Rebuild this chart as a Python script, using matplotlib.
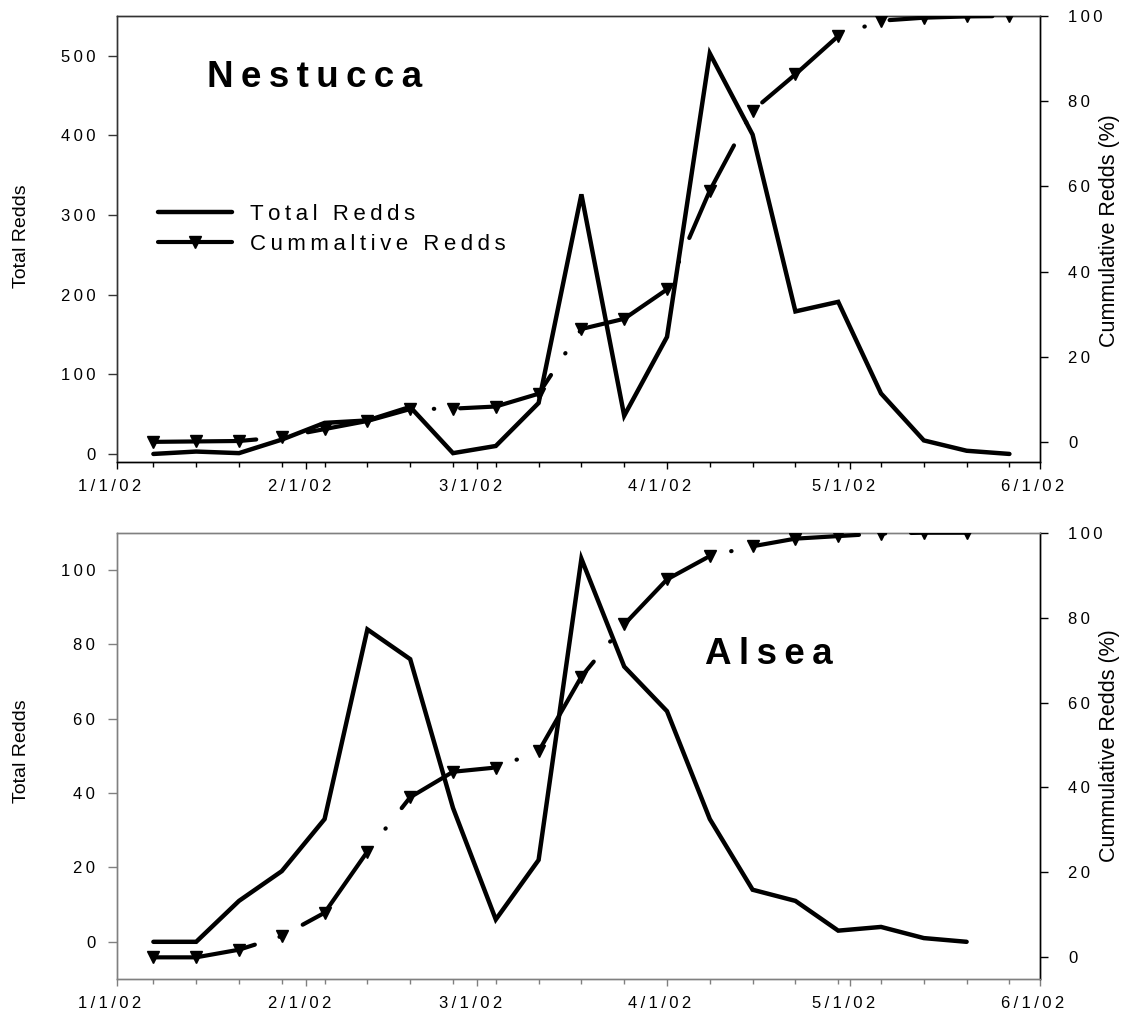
import matplotlib
matplotlib.use('Agg')
import matplotlib.pyplot as plt
import matplotlib.dates as mdates
import numpy as np
from matplotlib.transforms import ScaledTranslation

plt.rcParams['font.family'] = ['Liberation Sans', 'DejaVu Sans']

# ---------------- data ----------------
nestucca_dates = ['2002-01-07', '2002-01-14', '2002-01-21', '2002-01-28', '2002-02-04',
                  '2002-02-11', '2002-02-18', '2002-02-25', '2002-03-04', '2002-03-11',
                  '2002-03-18', '2002-03-25', '2002-04-01', '2002-04-08', '2002-04-15',
                  '2002-04-22', '2002-04-29', '2002-05-06', '2002-05-13', '2002-05-20',
                  '2002-05-27']
nestucca_total = [0, 3, 1, 18, 39, 42, 59, 1, 10, 64, 326, 48, 147, 503, 401, 179, 191, 76, 17, 4, 0]
nestucca_cum = [0, 0.1, 0.2, 1.1, 3.0, 4.9, 7.7, 7.8, 8.3, 11.3, 26.5, 28.9, 35.8, 59.0,
                77.8, 86.3, 95.3, 98.9, 99.6, 99.9, 100]

alsea_dates = ['2002-01-07', '2002-01-14', '2002-01-21', '2002-01-28', '2002-02-04',
               '2002-02-11', '2002-02-18', '2002-02-25', '2002-03-04', '2002-03-11',
               '2002-03-18', '2002-03-25', '2002-04-01', '2002-04-08', '2002-04-15',
               '2002-04-22', '2002-04-29', '2002-05-06', '2002-05-13', '2002-05-20']
alsea_total = [0, 0, 11, 19, 33, 84, 76, 36, 6, 22, 103, 74, 62, 33, 14, 11, 3, 4, 1, 0]
alsea_cum = [0, 0, 1.8, 5.0, 10.5, 24.9, 37.7, 43.7, 44.7, 48.5, 66.1, 78.4, 89.0, 94.5,
             96.8, 98.6, 99.2, 99.8, 100, 100]

month_ticks = ['2002-01-01', '2002-02-01', '2002-03-01', '2002-04-01', '2002-05-01', '2002-06-01']
month_labels = ['1/1/02', '2/1/02', '3/1/02', '4/1/02', '5/1/02', '6/1/02']
week_ticks = nestucca_dates

nestucca_left_ticks = [0, 100, 200, 300, 400, 500]
alsea_left_ticks = [0, 20, 40, 60, 80, 100]
right_ticks = [0, 20, 40, 60, 80, 100]


def sp(s):
    return '\u2009'.join(s)


def todates(lst):
    return mdates.datestr2num(lst)


W, H = 1135, 1013
fig = plt.figure(figsize=(W / 100, H / 100), dpi=100)
fig.patch.set_facecolor('white')

ax_top = fig.add_axes([116.7 / W, 1 - 462.3 / H, 923.3 / W, 446.3 / H])
ax_bot = fig.add_axes([116.7 / W, 1 - 979 / H, 923.3 / W, 446.3 / H])

CUM_STYLE = (0, (24.7, 6.2, 0.1, 6.2))
TICK_FS = 12


def panel(ax, dates, total, cum, ylim_l, lticks, ylim_r, name, name_xy,
          frame_col, lab_l_y, lab_r_y, legend=False):
    x = todates(dates)
    axr = ax.twinx()
    l1, = ax.plot(x, total, color='black', lw=3.2, solid_joinstyle='miter',
                  solid_capstyle='round', zorder=3)
    l2, = axr.plot(x, cum, color='black', lw=3.0, linestyle=CUM_STYLE,
                   dash_capstyle='round', solid_capstyle='round', dash_joinstyle='round',
                   marker='v', markersize=9, zorder=3)
    ax.set_xlim(todates(['2002-01-01'])[0], todates(['2002-06-01'])[0])
    ax.set_ylim(*ylim_l)
    axr.set_ylim(*ylim_r)

    ax.set_yticks(lticks)
    ax.set_yticklabels([sp(str(v)) for v in lticks])
    axr.set_yticks(right_ticks)
    axr.set_yticklabels([sp(str(v)) for v in right_ticks])

    ax.set_xticks(todates(month_ticks))
    ax.set_xticklabels([sp(s) for s in month_labels])
    ax.set_xticks(todates(week_ticks), minor=True)

    ax.tick_params(axis='y', which='major', direction='out', length=6.5, width=1,
                   pad=9, labelsize=TICK_FS, color=frame_col[0])
    axr.tick_params(axis='y', which='major', direction='out', length=6, width=1,
                    pad=14.5, labelsize=TICK_FS)
    ax.tick_params(axis='x', which='major', direction='out', length=5, width=1,
                   pad=7, labelsize=TICK_FS, color=frame_col[1])
    ax.tick_params(axis='x', which='minor', direction='out', length=3.3, width=1,
                   color=frame_col[1])

    for s in ['left', 'top', 'bottom', 'right']:
        ax.spines[s].set_linewidth(1)
        axr.spines[s].set_linewidth(1)
    ax.spines['left'].set_color(frame_col[0])
    axr.spines['left'].set_color(frame_col[0])
    ax.spines['top'].set_color(frame_col[0])
    axr.spines['top'].set_color(frame_col[0])
    ax.spines['bottom'].set_color(frame_col[1])
    axr.spines['bottom'].set_color(frame_col[1])
    axr.spines['right'].set_color('black')

    ax.set_ylabel('Total Redds', fontsize=14)
    ax.yaxis.set_label_coords((22 - 116.7) / 923.3, lab_l_y)
    ax.yaxis.label.set_va('center')
    axr.set_ylabel('Cummulative Redds (%)', fontsize=15.5)
    axr.yaxis.set_label_coords((1110 - 116.7) / 923.3, lab_r_y)
    axr.yaxis.label.set_va('center')

    ax.text(name_xy[0], name_xy[1], sp(name), transform=ax.transAxes, fontsize=26.5,
            fontweight='bold', ha='left', va='baseline')

    off = ScaledTranslation(-0.07, 0, fig.dpi_scale_trans)
    for lbl in ax.get_xticklabels():
        lbl.set_transform(lbl.get_transform() + off)

    if legend:
        axr.legend([l1, l2], [sp('Total Redds'), sp('Cummaltive Redds')],
                   loc='upper left', bbox_to_anchor=(158 / W, 1 - 204 / H),
                   bbox_transform=fig.transFigure, frameon=False, borderpad=0,
                   borderaxespad=0, handlelength=3.33, handletextpad=0.8,
                   labelspacing=0.4, fontsize=16, numpoints=1)
    return axr


panel(ax_top, nestucca_dates, nestucca_total, nestucca_cum, (-10.5, 550),
      nestucca_left_ticks, (-4.8, 100), 'Nestucca',
      ((207 - 116.7) / 923.3, (462.3 - 87.3) / 446.3), ('#333333', 'black'),
      0.507, 0.518, legend=True)
panel(ax_bot, alsea_dates, alsea_total, alsea_cum, (-10, 110),
      alsea_left_ticks, (-5.1, 100), 'Alsea',
      ((705 - 116.7) / 923.3, (979 - 664) / 446.3), ('#808080', '#808080'),
      0.51, 0.524)

fig.savefig('out.png', dpi=100, facecolor='white')
